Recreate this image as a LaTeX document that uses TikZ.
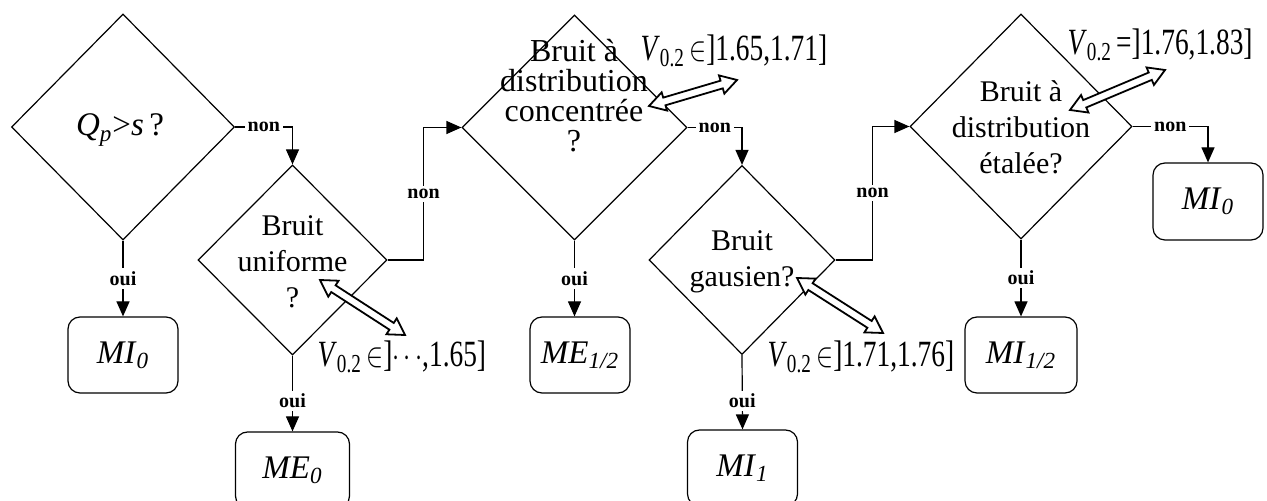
\documentclass[tikz,border=0pt]{standalone}
\usepackage{fontspec}
\setmainfont{Liberation Serif}
\usepackage{graphicx}
\usetikzlibrary{shapes.geometric,arrows.meta,calc}

\newcommand\vzero{\textit{V}\textsubscript{0.2}}
\newcommand\mres[2]{\textit{#1}\textsubscript{\textit{#2}}}
\newcommand\narrow[1]{\scalebox{0.74}[1]{#1}}
% fleche creuse a deux pointes entre deux points
\newcommand\dblarrow[2]{%
  \draw[hollow] (#1)
    -- ($(#1)!8pt!(#2)!4.75pt!90:(#2)$)
    -- ($(#1)!8pt!(#2)!2pt!90:(#2)$)
    -- ($(#2)!8pt!(#1)!2pt!-90:(#1)$)
    -- ($(#2)!8pt!(#1)!4.75pt!-90:(#1)$)
    -- (#2)
    -- ($(#2)!8pt!(#1)!4.75pt!90:(#1)$)
    -- ($(#2)!8pt!(#1)!2pt!90:(#1)$)
    -- ($(#1)!8pt!(#2)!2pt!-90:(#2)$)
    -- ($(#1)!8pt!(#2)!4.75pt!-90:(#2)$)
    -- cycle;}

\begin{document}
\begin{tikzpicture}[
  x=0.5pt,y=-0.5pt,
  >={Triangle[length=7.5pt,width=6.5pt]},
  line width=0.6pt,
  decision/.style={draw,diamond,inner sep=0pt},
  qtext/.style={align=center,inner sep=0pt,font=\fontsize{15}{18}\selectfont},
  result/.style={draw,rounded corners=6pt,minimum width=55pt,minimum height=38pt,
    font=\fontsize{16.5}{18}\selectfont},
  lbl/.style={fill=white,inner sep=1.5pt,font=\fontsize{10}{11}\selectfont\bfseries},
  vlabel/.style={anchor=base west,inner sep=0pt,font=\fontsize{18.5}{20}\selectfont},
  hollow/.style={draw,fill=white,line width=0.9pt,line join=miter},
  flow/.style={->}
]
  \clip (0,0) rectangle (1267,501);

  % tests
  \node[decision,minimum width=111.5pt,minimum height=113pt] (qp) at (123,127) {};
  \node[qtext,font=\fontsize{16.5}{18}\selectfont] (qpq) at (120,130) {\mres{Q}{p}>\textit{s}\,?};
  \node[decision,minimum width=94.5pt,minimum height=95pt] (uni) at (292.5,260) {};
  \node[qtext] (uniq) at (292.5,262) {Bruit\\uniforme\\?};
  \node[decision,minimum width=112.5pt,minimum height=112.5pt] (conc) at (574.5,127.5) {};
  \node[qtext,font=\fontsize{16}{15}\selectfont] (concq) at (574,96) {Bruit à\\distribution\\concentrée\\?};
  \node[decision,minimum width=93pt,minimum height=94.5pt] (gaus) at (742,260) {};
  \node[qtext] (gausq) at (742,262) {Bruit\\gausien?};
  \node[decision,minimum width=111pt,minimum height=112.5pt] (etal) at (1021,126.5) {};
  \node[qtext] (etalq) at (1021,127) {Bruit à\\distribution\\étalée?};

  % resultats
  \node[result] (mi0a) at (123,355) {\mres{MI}{0}};
  \node[result,minimum width=57pt] (me0) at (292.5,470) {\mres{ME}{0}};
  \node[result,minimum width=50pt] (me12) at (580,355) {\mres{ME}{1/2}};
  \node[result] (mi1) at (742.5,468) {\mres{MI}{1}};
  \node[result,minimum width=56pt] (mi12) at (1021,355) {\mres{MI}{1/2}};
  \node[result,minimum height=38.5pt] (mi0b) at (1208,201.5) {\mres{MI}{0}};

  % branches
  \draw[flow] (qp.south) -- node[lbl] {oui} (mi0a.north);
  \draw[flow] (qp.east) -| node[lbl,pos=0.25] {non} (uni.north);
  \draw[flow] (uni.south) -- node[lbl,pos=0.6] {oui} (me0.north);
  \draw[flow] (uni.east) -- ++(36,0) |- node[lbl,pos=0.25] {non} (conc.west);
  \draw[flow] (conc.south) -- node[lbl] {oui} (conc.south |- me12.north);
  \draw[flow] (conc.east) -| node[lbl,pos=0.25] {non} (gaus.north);
  \draw[flow] (gaus.south) -- node[lbl,pos=0.62] {oui} (mi1.north);
  \draw[flow] (gaus.east) -- ++(37,0) |- node[lbl,pos=0.25] {non} (etal.west);
  \draw[flow] (etal.south) -- node[lbl] {oui} (mi12.north);
  \draw[flow] (etal.east) -| node[lbl,pos=0.25] {non} (mi0b.north);

  % intervalles de V0.2
  \node[vlabel] (vuni) at (317,367) {\narrow{\vzero\,$\in$]$\cdots$,1.65]}};
  \node[vlabel] (vconc) at (640,61) {\narrow{\vzero\,$\in$]1.65,1.71]}};
  \node[vlabel] (vgaus) at (767,367) {\narrow{\vzero\,$\in$]1.71,1.76]}};
  \node[vlabel] (vetal) at (1067,55) {\narrow{\vzero\,=]1.76,1.83]}};

  \coordinate (au1) at (320,280); \coordinate (au2) at (405,335);
  \coordinate (ac1) at (649,106); \coordinate (ac2) at (737,80);
  \coordinate (ag1) at (797,278); \coordinate (ag2) at (883,333);
  \coordinate (ae1) at (1070,110); \coordinate (ae2) at (1165,70);
  \dblarrow{au1}{au2}
  \dblarrow{ac1}{ac2}
  \dblarrow{ag1}{ag2}
  \dblarrow{ae1}{ae2}
\end{tikzpicture}
\end{document}
